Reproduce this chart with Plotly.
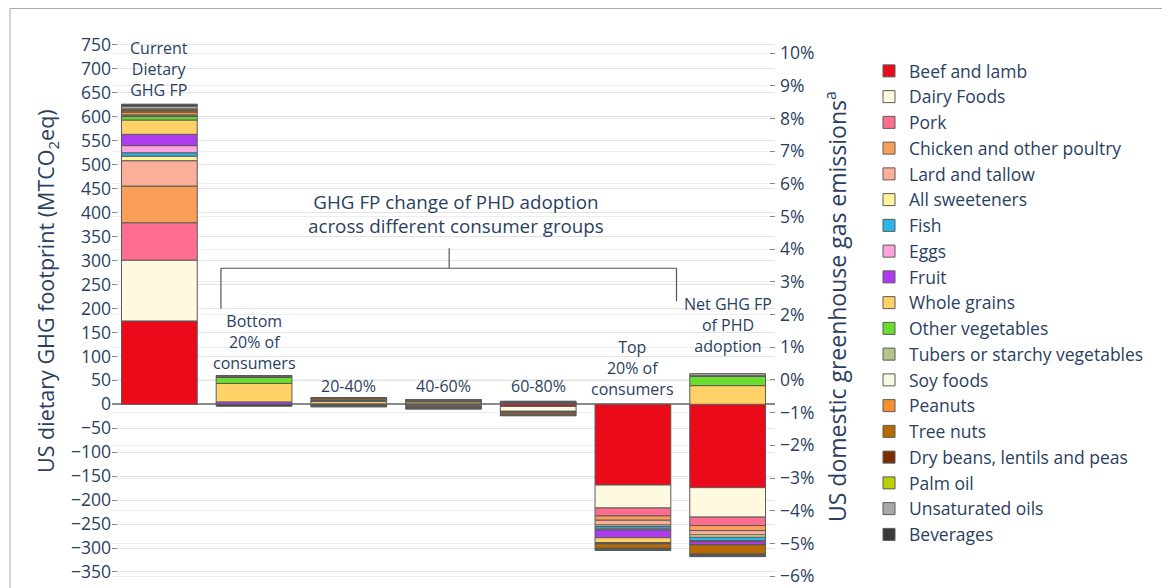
import plotly.graph_objects as go

groups = ["Current", "Bottom 20%", "20-40%", "40-60%", "60-80%", "Top 20%", "Net"]

foods = ["Beef and lamb", "Dairy Foods", "Pork", "Chicken and other poultry", "Lard and tallow",
         "All sweeteners", "Fish", "Eggs", "Fruit", "Whole grains", "Other vegetables",
         "Tubers or starchy vegetables", "Soy foods", "Peanuts", "Tree nuts",
         "Dry beans, lentils and peas", "Palm oil", "Unsaturated oils", "Beverages"]

colors = ["#EA0A1A", "#FFF9E0", "#FF6E8E", "#F99F5A", "#FBAE9A", "#FFF39C", "#2CB5EA",
          "#FFA3E0", "#AE3BF0", "#FFD166", "#6ADD2E", "#B5C48B", "#F6FADF", "#F7902F",
          "#B76A00", "#7A2E00", "#BCCF00", "#A8A8A8", "#3A3A3A"]

# MTCO2eq per food group, one column per consumer group
beef = [174, -0.5, -2, -3, -4.5, -168.5, -174]
dairy = [127, -0.5, -1, -2, -10, -48, -61.5]
pork = [78, 0, 0, -1, -1.5, -16.5, -17.5]
chicken = [76.5, 0, 0, 0, -1, -9, -10.5]
lard = [53, 0, 0, 0, -1, -10, -9]
sweeteners = [9.5, 0, 0, 0, 0, -3.5, -5]
fish = [7, 0, 0, 0, 0, -5, -7]
eggs = [15, 0, 0, 0, 0, -2, -2]
fruit = [23.5, 5, 1, 1, 0.5, -16, -6]
whole_grains = [30, 38.5, 5, 4, 1.5, -10.5, 39]
other_veg = [7, 12.5, 1, 1, 1, -0.5, 19.5]
tubers = [2, 1, 0, 0, 0, -0.5, 1]
soy = [1.5, 0.5, 1, 0, 0, -0.5, 0]
peanuts = [6, 0, 1, 0, 0, -1, -1]
tree_nuts = [3, 1, 4, 3, -4, -9, -19]
dry_beans = [1.5, 0, -1, -3, -2, -1.5, -2]
palm_oil = [2, 0, 0, 0, 0, -0.5, -0.5]
unsat_oils = [6, 1.5, 1, 1, 1.5, -1, 4.5]
beverages = [4, -3, -1.5, -1, 2, -1.5, -3]

series = [beef, dairy, pork, chicken, lard, sweeteners, fish, eggs, fruit, whole_grains,
          other_veg, tubers, soy, peanuts, tree_nuts, dry_beans, palm_oil, unsat_oils, beverages]

pct_ticks = list(range(-6, 11))
pct_text = [("\u2212" if v < 0 else "") + f"{abs(v)}%" for v in pct_ticks]

txt = "#2a3f5f"
fnt = "Open Sans, Verdana, Arial, sans-serif"

W, H = 1170, 588
L, R, T, B = 104, 403, 30, 14
pw, ph = W - L - R, H - T - B


def px(x):
    return (x - L) / pw


def py(y):
    return (H - B - y) / ph


fig = go.Figure()
for name, col, vals in zip(foods, colors, series):
    fig.add_trace(go.Bar(x=groups, y=vals, name=name, marker_color=col,
                         marker_line=dict(color="#5a5a5a", width=1), width=0.8))

# dummy trace so the right-hand axis gets drawn
fig.add_trace(go.Scatter(x=[groups[0]], y=[0], yaxis="y2", mode="markers",
                         marker=dict(opacity=0), showlegend=False, hoverinfo="skip"))

labels = [
    ("Current<br>Dietary<br>GHG FP", 0, 700),
    ("Bottom<br>20% of<br>consumers", 1, 129.5),
    ("20-40%", 2, 37.6),
    ("40-60%", 3, 37.6),
    ("60-80%", 4, 37.6),
    ("Top<br>20% of<br>consumers", 5, 75),
    ("Net GHG FP<br>of PHD<br>adoption", 6, 165),
]
ann = [dict(text=t, x=x, y=y, xref="x", yref="y", showarrow=False,
            font=dict(size=16, color=txt)) for t, x, y in labels]
ann.append(dict(text="GHG FP change of PHD adoption<br>across different consumer groups",
                x=3.13, y=397, xref="x", yref="y", showarrow=False,
                font=dict(size=18.8, color=txt)))
ann.append(dict(text="US dietary GHG footprint (MTCO<sub>2</sub>eq)", textangle=-90,
                x=px(39), y=py(283), xref="paper", yref="paper", showarrow=False,
                xanchor="center", yanchor="middle", font=dict(size=21.5, color=txt)))
ann.append(dict(text="US domestic greenhouse gas emissions<sup>a</sup>", textangle=-90,
                x=px(828), y=py(298), xref="paper", yref="paper", showarrow=False,
                xanchor="center", yanchor="middle", font=dict(size=23, color=txt)))

bracket = dict(color="#555", width=1.2)
shapes = [
    dict(type="line", xref="x", yref="y", x0=0.65, x1=5.46, y0=284, y1=284, line=bracket),
    dict(type="line", xref="x", yref="y", x0=0.65, x1=0.65, y0=284, y1=200, line=bracket),
    dict(type="line", xref="x", yref="y", x0=5.46, x1=5.46, y0=284, y1=215, line=bracket),
    dict(type="line", xref="x", yref="y", x0=3.06, x1=3.06, y0=284, y1=326, line=bracket),
    dict(type="rect", xref="paper", yref="paper", x0=px(2), x1=px(1300),
         y0=py(700), y1=py(0.5), line=dict(color="#aaa", width=1), layer="below"),
]

fig.update_layout(
    width=W, height=H,
    margin=dict(l=L, r=R, t=T, b=B, autoexpand=False),
    barmode="relative",
    plot_bgcolor="white", paper_bgcolor="white",
    font=dict(family=fnt, color=txt, size=17),
    xaxis=dict(showticklabels=False, showgrid=False, ticks="", range=[-0.5, 6.5]),
    yaxis=dict(range=[-370.9, 764.6], dtick=50, tick0=0, gridcolor="#e4e4e4",
               zeroline=True, zerolinecolor="#8a8a8a", zerolinewidth=1.5,
               ticks="inside", ticklen=5, tickcolor="#888", tickfont=dict(size=17.5)),
    yaxis2=dict(overlaying="y", side="right", range=[-6.18, 10.46],
                tickvals=pct_ticks, ticktext=pct_text, gridcolor="#eceef3", showgrid=True,
                zeroline=False, ticks="inside", ticklen=5, tickcolor="#888",
                ticklabelstandoff=4, tickfont=dict(size=17.5)),
    legend=dict(x=px(861), y=py(45), xanchor="left", yanchor="top",
                font=dict(size=17.5, color=txt), traceorder="normal"),
    annotations=ann,
    shapes=shapes,
    showlegend=True,
)

fig.write_html("out.html")
